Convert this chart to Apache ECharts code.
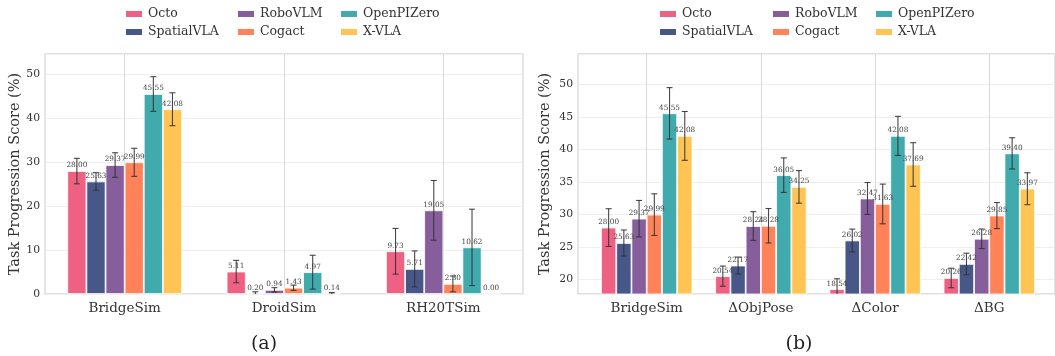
<!DOCTYPE html>
<html>
<head>
<meta charset="utf-8">
<script src="https://cdn.jsdelivr.net/npm/echarts@6/dist/echarts.min.js"></script>
<style>
  html, body { margin: 0; padding: 0; background: #ffffff; }
  #chart { width: 1055px; height: 356px; }
</style>
</head>
<body>
<div id="chart"></div>
<script>
// Models and their colours
const models = ['Octo', 'SpatialVLA', 'RoboVLM', 'Cogact', 'OpenPIZero', 'X-VLA'];
const modelColors = ['#EF6182', '#475888', '#865E9C', '#FF8258', '#40AAAC', '#FFC453'];

// (a) simulator benchmarks
const simCategories = ['BridgeSim', 'DroidSim', 'RH20TSim'];
const simOcto       = [28.00, 5.11, 9.73];
const simSpatialVLA = [25.63, 0.20, 5.71];
const simRoboVLM    = [29.37, 0.94, 19.05];
const simCogact     = [29.99, 1.43, 2.30];
const simOpenPIZero = [45.55, 4.97, 10.62];
const simXVLA       = [42.08, 0.14, 0.00];
const simOctoErr       = [2.9, 2.55, 5.2];
const simSpatialVLAErr = [2.0, 0.3, 4.1];
const simRoboVLMErr    = [2.8, 0.5, 6.8];
const simCogactErr     = [3.2, 0.6, 1.8];
const simOpenPIZeroErr = [3.95, 3.85, 8.7];
const simXVLAErr       = [3.75, 0.2, 0.0];

// (b) perturbation settings
const pertCategories = ['BridgeSim', '\u0394ObjPose', '\u0394Color', '\u0394BG'];
const pertOcto       = [28.00, 20.54, 18.54, 20.26];
const pertSpatialVLA = [25.63, 22.17, 26.02, 22.42];
const pertRoboVLM    = [29.37, 28.24, 32.47, 26.28];
const pertCogact     = [29.99, 28.28, 31.63, 29.85];
const pertOpenPIZero = [45.55, 36.05, 42.08, 39.40];
const pertXVLA       = [42.08, 34.25, 37.69, 33.97];
const pertOctoErr       = [2.9, 1.55, 1.6, 1.5];
const pertSpatialVLAErr = [2.0, 1.3, 1.75, 1.65];
const pertRoboVLMErr    = [2.8, 2.2, 2.45, 1.5];
const pertCogactErr     = [3.2, 2.65, 3.05, 2.0];
const pertOpenPIZeroErr = [3.95, 2.65, 3.0, 2.4];
const pertXVLAErr       = [3.75, 2.5, 3.35, 2.45];

// Axis ranges and tick labels
const simYMax = 54.66;
const simYInterval = 10;
const pertYMin = 17.8;
const pertYMax = 54.66;
const pertYInterval = 5;
const yTitle = 'Task Progression Score (%)';
const panelLabels = ['(a)', '(b)'];

const simScores = [simOcto, simSpatialVLA, simRoboVLM, simCogact, simOpenPIZero, simXVLA];
const simErrors = [simOctoErr, simSpatialVLAErr, simRoboVLMErr, simCogactErr, simOpenPIZeroErr, simXVLAErr];
const pertScores = [pertOcto, pertSpatialVLA, pertRoboVLM, pertCogact, pertOpenPIZero, pertXVLA];
const pertErrors = [pertOctoErr, pertSpatialVLAErr, pertRoboVLMErr, pertCogactErr, pertOpenPIZeroErr, pertXVLAErr];

const FONT = "'DejaVu Serif', 'Liberation Serif', serif";
const TEXT = '#333333';
const FRAME = '#d9d9d9';
const HGRID = '#eeeeee';
const VGRID = '#dadada';

function barSeries(scores, axisIdx, frac) {
  return scores.map((vals, m) => ({
    name: models[m],
    type: 'bar',
    xAxisIndex: axisIdx,
    yAxisIndex: axisIdx,
    data: vals,
    barWidth: (frac * 100).toFixed(3) + '%',
    barGap: '0%',
    itemStyle: { color: modelColors[m], borderColor: '#ffffff', borderWidth: 0.8 },
    label: {
      show: true,
      position: 'top',
      distance: 2,
      fontFamily: FONT,
      fontSize: 7.3,
      color: '#444444',
      formatter: p => p.value.toFixed(2)
    },
    emphasis: { disabled: true },
    z: 2
  }));
}

function errorSeries(scores, errors, axisIdx, frac) {
  const data = [];
  scores.forEach((vals, m) => vals.forEach((v, c) => data.push([c, v, errors[m][c], m])));
  return {
    type: 'custom',
    xAxisIndex: axisIdx,
    yAxisIndex: axisIdx,
    clip: true,
    z: 5,
    silent: true,
    encode: { x: 0, y: 1 },
    data: data,
    renderItem: function (params, api) {
      const c = api.value(0), v = api.value(1), e = api.value(2), m = api.value(3);
      if (!e) return null;
      const band = api.size([1, 0])[0];
      const dx = (m - (models.length - 1) / 2) * frac * band;
      const hi = api.coord([c, v + e]);
      const lo = api.coord([c, v - e]);
      const x = hi[0] + dx;
      const cap = 3;
      const style = { stroke: '#333333', lineWidth: 1.1, opacity: 0.9 };
      return {
        type: 'group',
        children: [
          { type: 'line', shape: { x1: x, y1: hi[1], x2: x, y2: lo[1] }, style: style },
          { type: 'line', shape: { x1: x - cap, y1: hi[1], x2: x + cap, y2: hi[1] }, style: style },
          { type: 'line', shape: { x1: x - cap, y1: lo[1], x2: x + cap, y2: lo[1] }, style: style }
        ]
      };
    }
  };
}

// Legends: three columns of two entries above each panel
function legendColumns(lefts) {
  const cols = [[0, 1], [2, 3], [4, 5]];
  return cols.map((idx, k) => ({
    orient: 'vertical',
    left: lefts[k],
    top: 7,
    itemWidth: 18,
    itemHeight: 8,
    itemGap: 4,
    icon: 'rect',
    selectedMode: false,
    padding: 0,
    data: idx.map(i => models[i]),
    textStyle: { fontFamily: FONT, fontSize: 12.5, color: TEXT, lineHeight: 14 }
  }));
}

const simFrac = 0.12;
const pertFrac = 0.8 / 6;

function panelLabel(text, x) {
  return {
    type: 'text', x: x, y: 344,
    style: { text: text, font: '19px ' + FONT, fill: '#222222', textAlign: 'center', textVerticalAlign: 'middle' }
  };
}

const option = {
  animation: false,
  backgroundColor: '#ffffff',
  color: modelColors,
  textStyle: { fontFamily: FONT },
  legend: legendColumns([124, 236, 339]).concat(legendColumns([658, 771, 874])),
  grid: [
    { left: 45, top: 54, width: 478, height: 240, show: true, borderColor: FRAME, borderWidth: 1.3, backgroundColor: 'transparent' },
    { left: 578, top: 54, width: 480, height: 240, show: true, borderColor: FRAME, borderWidth: 1.3, backgroundColor: 'transparent' },
    { left: 589.6, top: 54, width: 456.8, height: 240 }
  ],
  xAxis: [
    {
      type: 'category', gridIndex: 0, data: simCategories,
      axisLine: { show: false }, axisTick: { show: false },
      axisLabel: { fontFamily: FONT, fontSize: 13.5, color: TEXT, margin: 7 },
      splitLine: { show: true, alignWithLabel: true, lineStyle: { color: VGRID, width: 1 } }
    },
    { type: 'value', gridIndex: 1, min: 0, max: 1, show: false },
    {
      type: 'category', gridIndex: 2, data: pertCategories,
      axisLine: { show: false }, axisTick: { show: false },
      axisLabel: { fontFamily: FONT, fontSize: 13.5, color: TEXT, margin: 7 },
      splitLine: { show: true, alignWithLabel: true, lineStyle: { color: VGRID, width: 1 } }
    }
  ],
  yAxis: [
    {
      type: 'value', gridIndex: 0, min: 0, max: simYMax, interval: simYInterval,
      axisLine: { show: false }, axisTick: { show: false },
      axisLabel: { fontFamily: FONT, fontSize: 10.8, color: TEXT, margin: 5, showMaxLabel: false },
      splitLine: { show: true, lineStyle: { color: HGRID, width: 1 } },
      name: yTitle, nameLocation: 'middle', nameGap: 22,
      nameTextStyle: { fontFamily: FONT, fontSize: 14.5, color: TEXT }
    },
    {
      type: 'value', gridIndex: 1, min: pertYMin, max: pertYMax,
      minInterval: pertYInterval, maxInterval: pertYInterval, splitNumber: 8,
      axisLine: { show: false }, axisTick: { show: false },
      axisLabel: { fontFamily: FONT, fontSize: 10.8, color: TEXT, margin: 5, showMinLabel: false, showMaxLabel: false },
      splitLine: { show: true, lineStyle: { color: HGRID, width: 1 } },
      name: yTitle, nameLocation: 'middle', nameGap: 25,
      nameTextStyle: { fontFamily: FONT, fontSize: 14.5, color: TEXT }
    },
    { type: 'value', gridIndex: 2, min: pertYMin, max: pertYMax, show: false, splitLine: { show: false } }
  ],
  graphic: [panelLabel(panelLabels[0], 264), panelLabel(panelLabels[1], 799)],
  series: []
    .concat(barSeries(simScores, 0, simFrac))
    .concat([errorSeries(simScores, simErrors, 0, simFrac)])
    .concat(barSeries(pertScores, 2, pertFrac))
    .concat([errorSeries(pertScores, pertErrors, 2, pertFrac)])
};

const chart = echarts.init(document.getElementById('chart'), null, { renderer: 'canvas' });
chart.setOption(option);
</script>
</body>
</html>
